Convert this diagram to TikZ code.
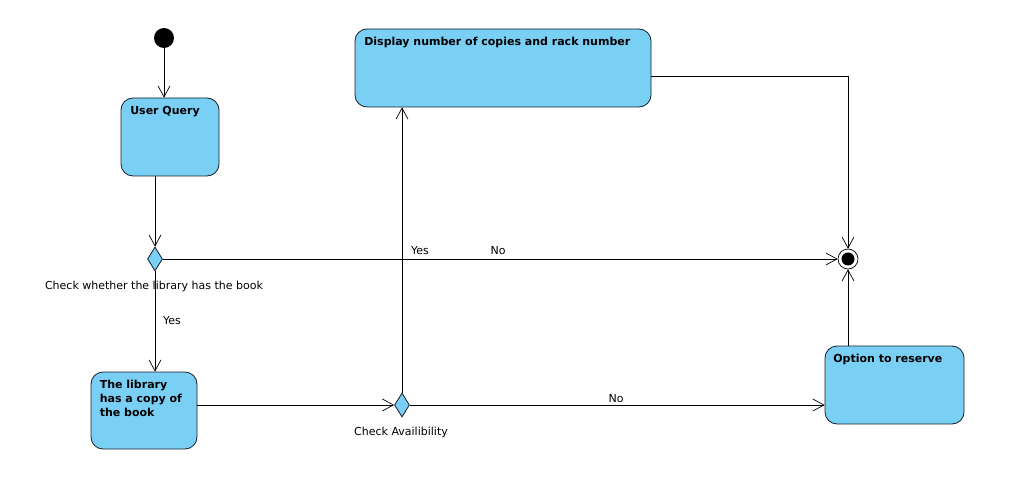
\documentclass[tikz,border=0pt]{standalone}
\usepackage{fontspec}
\setmainfont{DejaVu Sans}
\usetikzlibrary{arrows.meta,shapes.geometric}
\definecolor{actblue}{RGB}{122,207,245}
\definecolor{edgec}{RGB}{20,30,40}
\begin{document}
\begin{tikzpicture}[x=1pt,y=-1pt,
  font=\fontsize{11}{14}\selectfont,
  act/.style={draw=edgec, fill=actblue, rounded corners=12pt, line width=0.8pt, inner sep=0pt},
  acttext/.style={anchor=north west, inner sep=0pt, align=left, font=\fontsize{11}{14}\selectfont\bfseries},
  dec/.style={diamond, draw=edgec, fill=actblue, line width=0.8pt, minimum width=15pt, minimum height=24pt, inner sep=0pt},
  flow/.style={draw=black, line width=0.7pt, -{Straight Barb[length=11pt,width=12pt,line width=0.7pt]}},
  lbl/.style={inner sep=0pt, font=\fontsize{11}{13}\selectfont}
]
\useasboundingbox (0,0) rectangle (1030,486);
% nodes
\node[circle, fill=black, minimum size=20pt, inner sep=0pt] (start) at (164,38) {};
\node[act, minimum width=98pt, minimum height=78pt] (uq) at (170,137) {};
\node[acttext] (uqt) at ([xshift=9.5pt,yshift=-8.5pt]uq.north west) {User Query};
\node[dec] (d1) at (155,259) {};
\node[act, minimum width=106pt, minimum height=77pt] (lib) at (144,410.5) {};
\node[acttext] (libt) at ([xshift=9pt,yshift=-8pt]lib.north west) {The library\\has a copy of\\the book};
\node[dec] (d2) at (402,405) {};
\node[act, minimum width=296pt, minimum height=78pt] (disp) at (503,68) {};
\node[acttext] (dispt) at ([xshift=9.5pt,yshift=-8.5pt]disp.north west) {Display number of copies and rack number};
\node[act, minimum width=139pt, minimum height=78pt] (opt) at (894.5,385) {};
\node[acttext] (optt) at ([xshift=8.5pt,yshift=-8.5pt]opt.north west) {Option to reserve};
\node[circle, draw=black, fill=white, line width=0.7pt, minimum size=20pt, inner sep=0pt] (final) at (848,259) {};
\node[circle, fill=black, minimum size=13pt, inner sep=0pt] (finaldot) at (final) {};
% labels
\node[lbl] (l1) at (154,286.5) {Check whether the library has the book};
\node[lbl] (l2) at (401,432.5) {Check Availibility};
\node[lbl] (y1) at (420,251) {Yes};
\node[lbl] (n1) at (498,251) {No};
\node[lbl] (y2) at (172,320.5) {Yes};
\node[lbl] (n2) at (616,398.5) {No};
% connectors
\draw[flow] (start) -- (start |- uq.north);
\draw[flow] (d1 |- uq.south) -- (d1.north);
\draw[flow] (d1.east) -- (final.west);
\draw[flow] (d1.south) -- (d1 |- lib.north);
\draw[flow] (lib.east |- d2) -- (d2.west);
\draw[flow] (d2.north) -- (d2 |- disp.south);
\draw[flow] ([yshift=-8pt]disp.east) -| (final.north);
\draw[flow] (d2.east) -- (opt.west |- d2);
\draw[flow] (final |- opt.north) -- (final.south);
\end{tikzpicture}
\end{document}
